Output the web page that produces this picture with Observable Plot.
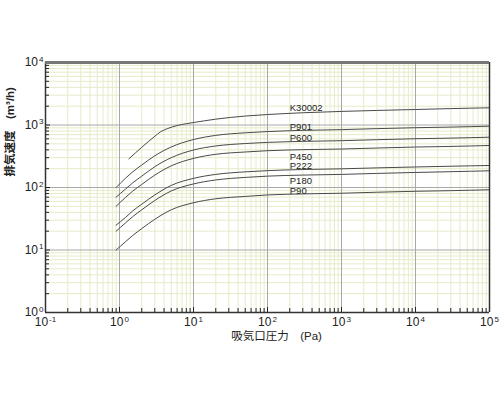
<!DOCTYPE html>
<html>
<head>
<meta charset="utf-8">
<script src="https://cdn.jsdelivr.net/npm/d3@7"></script>
<script src="https://cdn.jsdelivr.net/npm/@observablehq/plot@0.6"></script>
<style>
  html, body { margin: 0; padding: 0; background: #fff; }
</style>
</head>
<body>
<div id="chart"></div>
<script>
// ---- data ----
const pressure = [0.9, 1.2, 1.5, 2, 3, 5, 10, 20, 50, 100, 300, 1000, 3000, 10000, 30000, 100000];
const P90   = [10, 13.5, 17, 22, 31, 44, 57, 66, 72, 76, 79, 81, 84, 87, 89, 92];
const P180  = [20, 27, 34, 44, 62, 88, 114, 132, 145, 152, 158, 162, 168, 174, 179, 185];
const P222  = [25, 33, 42, 54, 76, 108, 140, 162, 178, 186, 194, 199, 206, 213, 219, 225];
const P450  = [50, 69, 87, 112, 158, 222, 292, 340, 370, 388, 403, 413, 428, 444, 454, 470];
const P600  = [70, 94, 118, 152, 215, 300, 398, 462, 505, 527, 547, 561, 582, 603, 617, 638];
const P901  = [100, 140, 177, 229, 322, 445, 585, 682, 750, 785, 820, 843, 874, 905, 926, 957];
const pressureK = [1.34, 2, 3, 3.6, 4.5, 6, 8, 10, 20, 50, 100, 300, 1000, 3000, 10000, 30000, 100000];
const K30002 = [288, 440, 660, 780, 880, 980, 1050, 1095, 1240, 1390, 1470, 1570, 1650, 1710, 1770, 1830, 1885];

const seriesNames = ["K30002", "P901", "P600", "P450", "P222", "P180", "P90"];
const labelPressure = 200;
const labelOffsets = [-5.5, -3.5, -3.5, 6.5, -3.5, 5, -3];

const xMajor = [0.1, 1, 10, 100, 1000, 10000, 100000];
const yMajor = [1, 10, 100, 1000, 10000];
const xTitle = "吸気口圧力　(Pa)";
const yTitle = "排気速度　(m³/h)";

// ---- build table ----
const seriesData = {
  K30002: [pressureK, K30002],
  P901: [pressure, P901],
  P600: [pressure, P600],
  P450: [pressure, P450],
  P222: [pressure, P222],
  P180: [pressure, P180],
  P90: [pressure, P90]
};
const rows = seriesNames.flatMap(name => {
  const [xs, ys] = seriesData[name];
  return xs.map((x, i) => ({name, x, y: ys[i]}));
});

// value of a series at the label pressure (log-log interpolation)
function valueAt(name, xq) {
  const [xs, ys] = seriesData[name];
  for (let i = 0; i < xs.length - 1; i++) {
    if (xq >= xs[i] && xq <= xs[i + 1]) {
      const t = Math.log(xq / xs[i]) / Math.log(xs[i + 1] / xs[i]);
      return Math.exp(Math.log(ys[i]) + t * Math.log(ys[i + 1] / ys[i]));
    }
  }
  return ys[ys.length - 1];
}

const minorOf = majors => majors.slice(0, -1).flatMap(m => [2,3,4,5,6,7,8,9].map(k => k * m));
const xMinor = minorOf(xMajor);
const yMinor = minorOf(yMajor);

const powFmt = d => "10^" + Math.round(Math.log10(d));

const minorColor = "#e4ecc8";
const majorColor = "#a8a8a8";
const lineColor = "#4a4a4a";
const font = "'Liberation Sans', Arial, 'Noto Sans CJK JP', sans-serif";

const chart = Plot.plot({
  width: 500,
  height: 400,
  marginLeft: 45,
  marginRight: 11,
  marginTop: 62,
  marginBottom: 88,
  style: {fontFamily: font, fontSize: "11px", background: "#fff", color: "#222"},
  x: {type: "log", domain: [0.1, 100000]},
  y: {type: "log", domain: [1, 10000]},
  marks: [
    Plot.gridX(xMinor, {stroke: minorColor, strokeOpacity: 1}),
    Plot.gridY(yMinor, {stroke: minorColor, strokeOpacity: 1}),
    Plot.gridX(xMajor, {stroke: majorColor, strokeOpacity: 1}),
    Plot.gridY(yMajor, {stroke: majorColor, strokeOpacity: 1}),
    Plot.line(rows, {x: "x", y: "y", z: "name", stroke: lineColor, strokeWidth: 1, curve: "monotone-x"}),
    seriesNames.map((name, i) => Plot.text([{name, x: labelPressure, y: valueAt(name, labelPressure)}], {
      x: "x", y: "y", text: "name", textAnchor: "start", lineAnchor: "middle",
      dy: labelOffsets[i], fontSize: 9.5, fill: "#222"
    })),
    // inward minor/major ticks
    Plot.axisX(xMinor, {tickSize: -4, tickFormat: () => "", label: null, stroke: "#222"}),
    Plot.axisX(xMajor, {tickSize: -5, tickFormat: powFmt, tickPadding: 10, fontSize: 12, label: null, stroke: "#222"}),
    Plot.axisY(yMinor, {tickSize: -4, tickFormat: () => "", label: null, stroke: "#222"}),
    Plot.axisY(yMajor, {tickSize: -5, tickFormat: powFmt, tickPadding: 7, fontSize: 12, label: null, stroke: "#222"}),
    // frame
    Plot.ruleX([0.1], {stroke: "#333", strokeWidth: 1.5}),
    Plot.ruleY([1], {stroke: "#333", strokeWidth: 1.5}),
    Plot.ruleX([100000], {stroke: "#333", strokeWidth: 1.5}),
    Plot.ruleY([10000], {stroke: "#777", strokeWidth: 3}),
    // titles
    Plot.text([xTitle], {frameAnchor: "bottom", dy: 27, dx: 9, fontSize: 11.5, fill: "#222"}),
    Plot.text([yTitle], {frameAnchor: "left", rotate: -90, dx: -35, dy: -11, fontSize: 11.5, fontWeight: "bold", fill: "#222"})
  ]
});

// turn "10^n" tick labels into real superscripts
d3.select(chart).selectAll("text").each(function() {
  const t = this.textContent;
  const m = /^10\^(-?\d+)$/.exec(t);
  if (!m) return;
  const sel = d3.select(this);
  sel.text(null);
  sel.append("tspan").text("10");
  sel.append("tspan").attr("font-size", "8px").attr("dy", "-0.55em").attr("dx", "1").text(m[1]);
});

document.getElementById("chart").appendChild(chart);
</script>
</body>
</html>
